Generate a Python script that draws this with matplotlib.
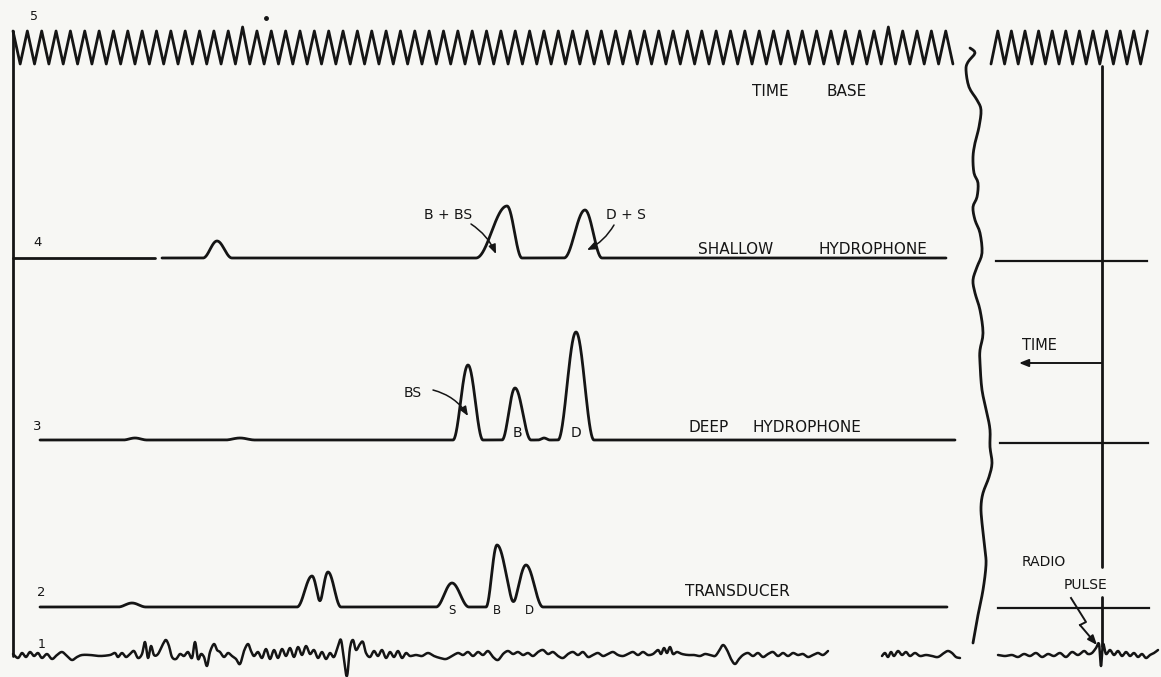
import numpy as np
import matplotlib.pyplot as plt

W, H = 1161, 677
INK = '#151515'
PAPER = '#f7f7f4'

# ---- values (pixel units of the original sheet) ----
# trace 5: time base sweep (left part and right part after the break)
tb_left_x = (13, 953)
tb_right_x = (991, 1148)
tb_left_period = 14.35
tb_right_period = 13.6
tb_peak_y, tb_trough_y = 31, 64
tb_tall_peaks = [246, 523, 887]

# baselines of traces 4, 3, 2 and 1
base_4, base_3, base_2, base_1 = 258, 440, 607, 656
base_4r, base_3r, base_2r = 261, 443, 608

# pulses: (centre x, height, left half-width, right half-width)
shallow_peaks = [(217, 17, 14, 15), (507, 52, 31, 15), (585, 48, 21, 17)]
deep_peaks = [(135, 2, 12, 12), (240, 2, 15, 15), (468, 75, 15, 15),
              (515, 52, 13, 16), (544, 2, 6, 6), (576, 108, 18, 18)]
trans_peaks = [(132, 4, 14, 14), (312, 31, 15, 10), (328, 35, 10, 13),
               (452, 24, 16, 17), (497, 62, 11, 19), (526, 42, 15, 17)]

# trace extents (x)
shallow_segments = [(13, 155), (162, 946)]
deep_segment = (40, 955)
trans_segment = (40, 947)
right_lines = [(996, 1147), (1000, 1148), (998, 1149)]

# trace 1: noise, (x, displacement up)
noise_a = [(13, 2), (18, -2), (22, 3), (26, -1), (30, 4), (34, 0), (38, 3), (42, -2),
           (47, 2), (52, -3), (57, 1), (62, 4), (67, 0), (72, -4), (77, -1), (82, 1),
           (90, 1), (100, 0), (110, 1), (115, 3), (118, -1), (122, 3), (126, -1),
           (130, 2), (134, 5), (138, -2), (142, 2), (145, 14), (148, -2), (151, 10),
           (154, 1), (158, 2), (163, 12), (166, 16), (169, 10), (172, -1), (176, -3),
           (180, 2), (184, 0), (188, 4), (192, -2), (195, 14), (198, -3), (201, 2),
           (204, -1), (207, -10), (210, 4), (214, 12), (217, 6), (220, 4), (224, -1),
           (228, 3), (232, 0), (236, -3), (240, -8), (244, 5), (248, 12), (251, 5),
           (254, 0), (258, 4), (262, -2), (266, 7), (270, -3), (274, 6), (278, -2),
           (282, 7), (286, 0), (290, 8), (294, -1), (298, 9), (302, 1), (306, 10),
           (310, 2), (314, 6), (318, -2), (322, 4), (326, -3), (330, 3), (334, -1),
           (338, 10), (341, 16), (344, -4), (347, -20), (350, 8), (353, 16), (356, 6),
           (360, 12), (363, 14), (366, 3), (370, -1), (374, 5), (378, 0), (382, 6),
           (386, -2), (390, 4), (394, -1), (398, 5), (402, -2), (406, 3), (410, 0),
           (416, 1), (422, 0), (428, 3), (434, 0), (440, -2), (446, -3), (452, 0),
           (458, 3), (463, 1), (468, 4), (473, 0), (478, 4), (483, 1), (488, 5),
           (493, -1), (498, -4), (503, 2), (508, 5), (513, 2), (518, 4), (523, 1),
           (528, 3), (533, 0), (538, 4), (543, 6), (548, 2), (553, 4), (558, 0),
           (563, -2), (568, 2), (573, 4), (578, 1), (583, 4), (588, -1), (593, 1),
           (598, 3), (603, 0), (608, 2), (613, 4), (618, 1), (623, 0), (628, 2),
           (633, 4), (638, 1), (643, 4), (648, 1), (653, 2), (658, 6), (661, 2),
           (664, 8), (667, 3), (670, 9), (673, 2), (677, 4), (682, 2), (688, 1),
           (694, 1), (700, 0), (705, 2), (710, 1), (715, 0), (719, 5), (723, 11),
           (727, 6), (731, -3), (735, -8), (739, -3), (743, 1), (748, 3), (753, 0),
           (758, 3), (763, -1), (768, 2), (773, 4), (778, 0), (783, 3), (788, 0),
           (793, 3), (798, 1), (803, 2), (808, -1), (813, 1), (818, 3), (823, 1),
           (828, 5)]
noise_b = [(882, 0), (885, 3), (888, -1), (891, 4), (894, 0), (898, 5), (902, 1),
           (906, 4), (910, 0), (915, 3), (920, 0), (926, 1), (932, 0), (938, -1),
           (944, 3), (948, 5), (952, 3), (956, -1), (960, -2)]
noise_c = [(998, 1), (1005, 0), (1012, 1), (1018, -1), (1024, 2), (1030, 0),
           (1036, 3), (1042, -1), (1048, 2), (1054, 0), (1060, 3), (1066, -1),
           (1072, 4), (1078, 1), (1084, 5), (1088, 2), (1092, 3), (1096, 8),
           (1099, 12), (1101, -10), (1103, 12), (1106, 2), (1110, 6), (1114, 1),
           (1118, 5), (1122, 0), (1126, 4), (1130, 0), (1134, 3), (1138, -1),
           (1142, 2), (1146, -2), (1150, 1), (1154, 3), (1158, 6)]

# break symbol between the two parts of the record
break_path = [(970, 48), (975, 53), (968, 62), (966, 70), (969, 87), (977, 100),
              (981, 110), (979, 127), (975, 143), (973, 157), (974, 173), (978, 183),
              (977, 197), (973, 207), (975, 220), (980, 233), (982, 253), (977, 267),
              (973, 280), (975, 293), (980, 310), (983, 333), (980, 350), (980, 363),
              (982, 390), (987, 413), (990, 430), (990, 447), (992, 463), (989, 477),
              (983, 493), (981, 507), (982, 523), (985, 550), (986, 565), (983, 590),
              (978, 615), (973, 643)]

# timing mark on the right part
mark_x = 1102
mark_spans = [(66, 567), (597, 646)]


def pulse_trace(x0, x1, base, peaks):
    x = np.linspace(x0, x1, int((x1 - x0) * 4) + 2)
    y = np.zeros_like(x)
    for c, h, hl, hr in peaks:
        dx = x - c
        hw = np.where(dx < 0, hl, hr)
        u = np.abs(dx) / hw
        y += np.where(u < 1, h * np.cos(np.pi / 2 * np.minimum(u, 1)) ** 2, 0)
    return x, base - y


def sweep(x0, x1, period, start_peak):
    xs = np.arange(x0, x1 + 0.01, period / 2)
    ys = []
    for i, xv in enumerate(xs):
        top = (i % 2 == 0) == start_peak
        if top:
            tall = any(abs(xv - t) < 6 for t in tb_tall_peaks)
            ys.append(27 if tall else tb_peak_y)
        else:
            ys.append(tb_trough_y)
    return xs, np.array(ys)


def smooth(pts, n=6):
    # catmull-rom through the read-off points, so the pen wiggles look rounded
    p = np.array(pts, dtype=float)
    p = np.vstack([p[0], p, p[-1]])
    out = []
    t = np.linspace(0, 1, n, endpoint=False)[:, None]
    for i in range(1, len(p) - 2):
        p0, p1, p2, p3 = p[i - 1], p[i], p[i + 1], p[i + 2]
        seg = 0.5 * ((2 * p1) + (-p0 + p2) * t + (2 * p0 - 5 * p1 + 4 * p2 - p3) * t ** 2
                     + (-p0 + 3 * p1 - 3 * p2 + p3) * t ** 3)
        out.append(seg)
    out.append(p[-2][None, :])
    return np.vstack(out)


fig = plt.figure(figsize=(W / 100, H / 100), dpi=100, facecolor=PAPER)
ax = fig.add_axes([0, 0, 1, 1])
ax.set_facecolor(PAPER)
ax.set_xlim(0, W)
ax.set_ylim(H, 0)
ax.axis('off')

lw = 2.0
kw = dict(color=INK, lw=lw, solid_capstyle='round', solid_joinstyle='round')

# trace 5 - time base
x, y = sweep(*tb_left_x, tb_left_period, True)
ax.plot(x, y, **kw)
x, y = sweep(*tb_right_x, tb_right_period, False)
ax.plot(x, y, **kw)
ax.plot([266], [18], 'o', color=INK, ms=2.5)

# left edge of the record
ax.plot([13, 13], [31, base_1], **kw)

# trace 4 - shallow hydrophone
for s0, s1 in shallow_segments:
    x, y = pulse_trace(s0, s1, base_4, shallow_peaks)
    ax.plot(x, y, **kw)

# trace 3 - deep hydrophone
x, y = pulse_trace(*deep_segment, base_3, deep_peaks)
ax.plot(x, y, **kw)

# trace 2 - transducer
x, y = pulse_trace(*trans_segment, base_2, trans_peaks)
ax.plot(x, y, **kw)

# right part baselines
for (r0, r1), yb in zip(right_lines, [base_4r, base_3r, base_2r]):
    ax.plot([r0, r1], [yb, yb], color=INK, lw=1.6)

# trace 1 - noise
for seg in (noise_a, noise_b, noise_c):
    pts = smooth([(px, base_1 - dy) for px, dy in seg])
    ax.plot(pts[:, 0], pts[:, 1], color=INK, lw=1.8, solid_joinstyle='round',
            solid_capstyle='round')

# break symbol
bp = smooth(break_path, 4)
ax.plot(bp[:, 0], bp[:, 1], **kw)

# timing mark
for m0, m1 in mark_spans:
    ax.plot([mark_x, mark_x], [m0, m1], **kw)

# labels
tkw = dict(color=INK, family='DejaVu Sans', va='center', ha='left')
ax.text(30, 17, '5', fontsize=9, **tkw)
ax.text(33, 243, '4', fontsize=9.5, **tkw)
ax.text(33, 426, '3', fontsize=9.5, **tkw)
ax.text(37, 593, '2', fontsize=9.5, **tkw)
ax.text(38, 644, '1', fontsize=9, **tkw)

ax.text(752, 92, 'TIME', fontsize=11, **tkw)
ax.text(827, 92, 'BASE', fontsize=11, **tkw)
ax.text(698, 249, 'SHALLOW', fontsize=11, **tkw)
ax.text(818, 249, 'HYDROPHONE', fontsize=11, **tkw)
ax.text(688, 428, 'DEEP', fontsize=11, **tkw)
ax.text(752, 428, 'HYDROPHONE', fontsize=11, **tkw)
ax.text(685, 591, 'TRANSDUCER', fontsize=11, **tkw)
ax.text(1022, 345, 'TIME', fontsize=10.5, **tkw)
ax.text(1022, 562, 'RADIO', fontsize=10, **tkw)
ax.text(1064, 585, 'PULSE', fontsize=10, **tkw)

ax.text(424, 215, 'B + BS', fontsize=10, **tkw)
ax.text(606, 215, 'D + S', fontsize=10, **tkw)
ax.text(404, 393, 'BS', fontsize=10, **tkw)
ckw = dict(tkw, ha='center')
ax.text(517, 433, 'B', fontsize=10, **ckw)
ax.text(576, 433, 'D', fontsize=10, **ckw)
ax.text(452, 611, 'S', fontsize=8.5, **ckw)
ax.text(497, 611, 'B', fontsize=8.5, **ckw)
ax.text(529, 611, 'D', fontsize=8.5, **ckw)

# pointer arrows
akw = dict(arrowstyle='-|>,head_length=0.55,head_width=0.22', color=INK, lw=1.1,
           shrinkA=0, shrinkB=0)
ax.annotate('', xy=(496, 254), xytext=(471, 224),
            arrowprops=dict(akw, connectionstyle='arc3,rad=-0.15'))
ax.annotate('', xy=(587, 250), xytext=(614, 225),
            arrowprops=dict(akw, connectionstyle='arc3,rad=-0.15'))
ax.annotate('', xy=(468, 416), xytext=(433, 390),
            arrowprops=dict(akw, connectionstyle='arc3,rad=-0.2'))
ax.annotate('', xy=(1019, 363), xytext=(mark_x, 363),
            arrowprops=dict(akw, lw=1.4))

# radio pulse lightning arrow
ax.plot([1071, 1086, 1080], [598, 622, 625], color=INK, lw=1.4)
ax.annotate('', xy=(1097, 645), xytext=(1080, 625), arrowprops=dict(akw, lw=1.4))

fig.savefig('out.png', dpi=100, facecolor=PAPER)
